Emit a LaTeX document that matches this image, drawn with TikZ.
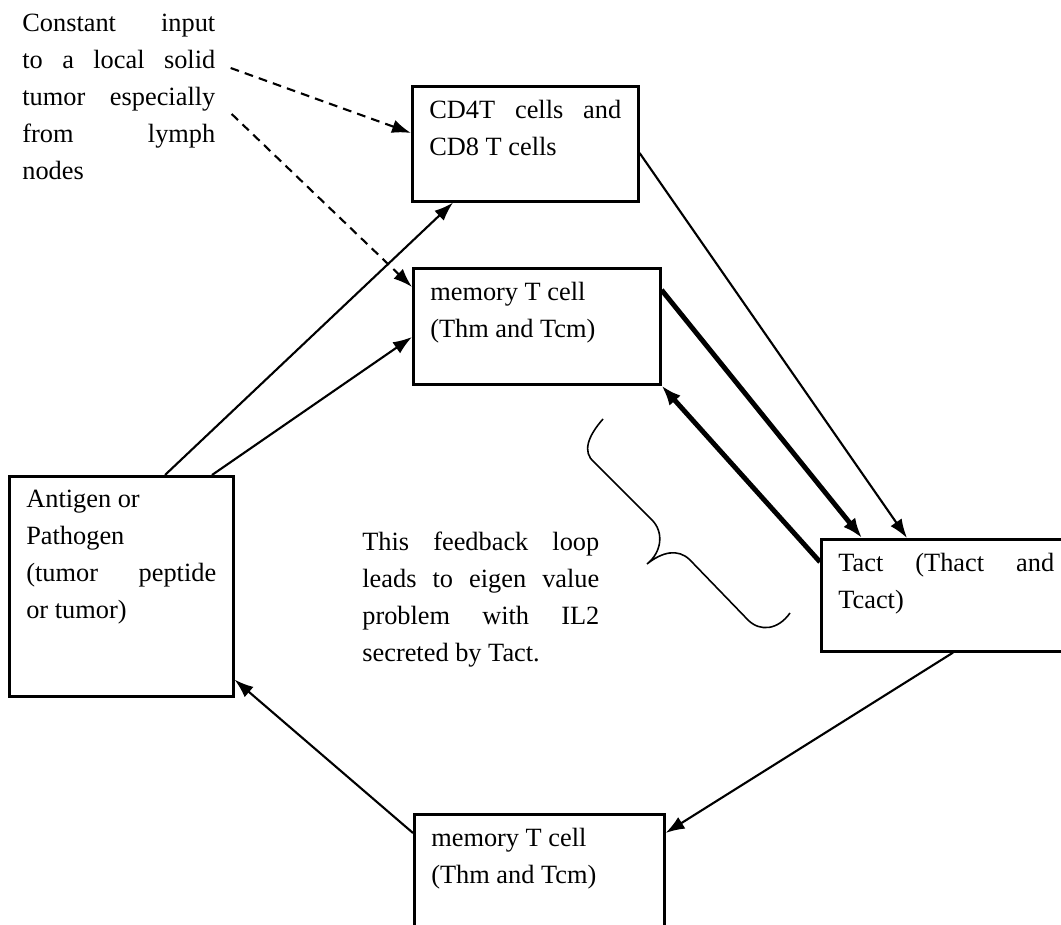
\documentclass[tikz,border=0pt]{standalone}
\usepackage{fontspec}
\setmainfont{Liberation Serif}
\usetikzlibrary{arrows.meta,calc}
\def\celltext#1#2#3{\parbox[t][#2][t]{#1}{#3}}
\tikzset{
	cell/.style={draw, line width=1.5pt, anchor=north west, inner xsep=0.34cm, inner ysep=0.28cm},
	note/.style={anchor=north west, inner sep=0pt, align=justify},
	link/.style={line width=1.2pt, -{Latex[length=0.38cm,width=0.27cm]}},
	heavy/.style={line width=2.8pt, -{Latex[length=0.4cm,width=0.3cm]}},
	feed/.style={line width=1.2pt, dash pattern=on 5pt off 3.5pt, -{Latex[length=0.38cm,width=0.27cm]}}
}

\begin{document}
\begin{tikzpicture}[x=0.02cm, y=-0.02cm, font=\fontsize{15}{21}\selectfont]
			%%%%% START %%%%%
			
			\useasboundingbox (0, 0) rectangle (1061, 925);
			\clip (0, 0) rectangle (1061, 925);
			
			\node[note, text width=3.86cm] (input) at (22, 14) {Constant input\linebreak to a local solid\linebreak tumor especially\linebreak from lymph\linebreak nodes};
			
			\node[cell] (cd) at (411, 85) {\celltext{3.84cm}{1.74cm}{CD4T cells and\linebreak CD8 T cells}};
			\node[cell] (memtop) at (412, 267) {\celltext{4.26cm}{1.76cm}{memory T cell\\(Thm and Tcm)}};
			\node[cell] (antigen) at (8, 475) {\celltext{3.80cm}{3.84cm}{Antigen or\\Pathogen\\(tumor peptide\linebreak or tumor)}};
			\node[cell] (tact) at (820, 538) {\celltext{4.32cm}{1.68cm}{Tact (Thact and\linebreak Tcact)}};
			\node[cell] (membot) at (413, 813) {\celltext{4.32cm}{2.04cm}{memory T cell\\(Thm and Tcm)}};
			
			\node[note, text width=4.74cm] (loop) at (362, 532) {This feedback loop\linebreak leads to eigen value\linebreak problem with IL2\linebreak secreted by Tact.};
			
			\draw[feed] ([shift={(15, 54)}]input.north east) -- ([shift={(0, 48)}]cd.north west);
			\draw[feed] ([shift={(16, 100)}]input.north east) -- ([shift={(0, 20)}]memtop.north west);
			
			\draw[link] ([shift={(157, 0)}]antigen.north west) -- ([shift={(42, 0)}]cd.south west);
			\draw[link] ([shift={(204, 0)}]antigen.north west) -- ([shift={(0, 70)}]memtop.north west);
			\draw[link] ([shift={(0, 68)}]cd.north east) -- ([shift={(87, 0)}]tact.north west);
			\draw[heavy] ([shift={(0, 23)}]memtop.north east) -- ([shift={(42, 0)}]tact.north west);
			\draw[heavy] ([shift={(0, 24)}]tact.north west) -- (memtop.south east);
			\draw[link] ([shift={(133, 0)}]tact.south west) -- ([shift={(0, 20)}]membot.north east);
			\draw[link] ([shift={(0, 20)}]membot.north west) -- ([shift={(0, -18)}]antigen.south east);
			
			% brace
			\draw[line width=0.9pt] (603, 419) .. controls (588, 436) and (582, 452) .. (594, 462) -- (652, 520) .. controls (664, 532) and (662, 552) .. (647, 564) .. controls (662, 552) and (678, 548) .. (690, 560) -- (748, 620) .. controls (760, 632) and (778, 630) .. (790, 613);
			
			%%%%% END %%%%%
\end{tikzpicture}
\end{document}
